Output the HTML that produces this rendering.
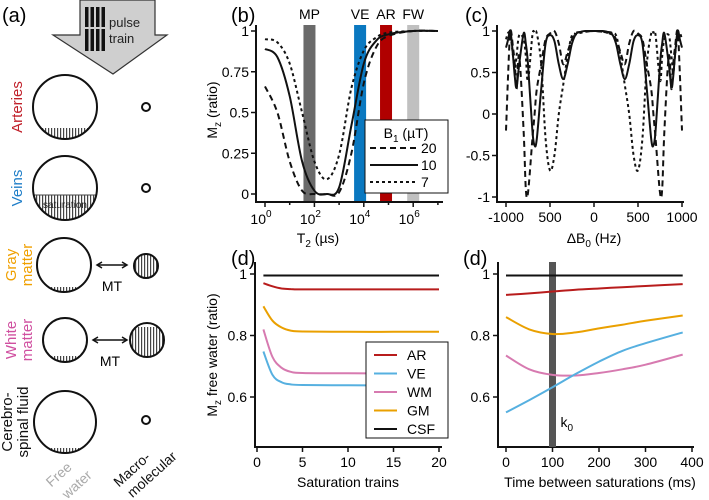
<!DOCTYPE html>
<html><head><meta charset="utf-8"><style>
body{margin:0;background:#fff}
svg{display:block;font-family:"Liberation Sans","DejaVu Sans",sans-serif}
</style></head><body>
<svg id="fig" width="709" height="500" viewBox="0 0 709 500">
<defs>
<pattern id="hatch" width="3" height="4" patternUnits="userSpaceOnUse"><rect width="3" height="4" fill="#fff"/><rect width="1.2" height="4" fill="#444"/></pattern>
<clipPath id="cA"><circle cx="65" cy="107" r="32"/></clipPath>
<clipPath id="cV"><circle cx="65" cy="188" r="32"/></clipPath>
<clipPath id="cG"><circle cx="64" cy="265" r="27"/></clipPath>
<clipPath id="cW"><circle cx="65" cy="340" r="22"/></clipPath>
<clipPath id="cC"><circle cx="65" cy="422" r="31"/></clipPath>
<clipPath id="cGm"><circle cx="146" cy="266" r="12"/></clipPath>
<clipPath id="cWm"><circle cx="147" cy="340" r="17"/></clipPath>
<clipPath id="clipB"><rect x="256" y="25" width="190" height="177"/></clipPath>
<clipPath id="clipC"><rect x="497" y="25" width="200" height="177"/></clipPath>
</defs>

<g>
<text x="2" y="22" font-size="20">(a)</text>
<polygon points="80,0 155,0 155,35 167,35 113,74 53,35 80,35" fill="#cfcfcf" stroke="#333" stroke-width="1.2"/>
<g fill="#111">
<rect x="85" y="7" width="3.5" height="44"/><rect x="90.5" y="7" width="3.5" height="44"/><rect x="96" y="7" width="3.5" height="44"/><rect x="101.5" y="7" width="3.5" height="44"/>
<rect x="84" y="27" width="22" height="2" fill="#cfcfcf"/>
</g>
<text x="109" y="27" font-size="13" fill="#222">pulse</text>
<text x="109" y="43" font-size="13" fill="#222">train</text>

<rect x="30" y="128" width="70" height="15" fill="url(#hatch)" clip-path="url(#cA)"/>
<circle cx="65" cy="107" r="32" fill="none" stroke="#111" stroke-width="2"/>
<circle cx="146" cy="107" r="4" fill="none" stroke="#111" stroke-width="2"/>

<rect x="30" y="195" width="70" height="30" fill="url(#hatch)" clip-path="url(#cV)"/>
<line x1="33" y1="195" x2="97" y2="195" stroke="#444" stroke-width="1"/>
<circle cx="65" cy="188" r="32" fill="none" stroke="#111" stroke-width="2"/>
<text x="65" y="208" font-size="10" text-anchor="middle" fill="#222">saturation</text>
<circle cx="146" cy="188" r="4" fill="none" stroke="#111" stroke-width="2"/>

<rect x="30" y="287" width="70" height="8" fill="url(#hatch)" clip-path="url(#cG)"/>
<circle cx="64" cy="265" r="27" fill="none" stroke="#111" stroke-width="2"/>
<rect x="130" y="252" width="32" height="30" fill="url(#hatch)" clip-path="url(#cGm)"/>
<circle cx="146" cy="266" r="12" fill="none" stroke="#111" stroke-width="2"/>
<g stroke="#111" stroke-width="1.5"><line x1="98" y1="265" x2="126" y2="265"/><polyline points="102,262 97,265 102,268" fill="none"/><polyline points="122,262 127,265 122,268" fill="none"/></g>
<text x="112" y="291" font-size="14" text-anchor="middle">MT</text>

<rect x="30" y="356" width="70" height="8" fill="url(#hatch)" clip-path="url(#cW)"/>
<circle cx="65" cy="340" r="22" fill="none" stroke="#111" stroke-width="2"/>
<rect x="126" y="327" width="40" height="35" fill="url(#hatch)" clip-path="url(#cWm)"/>
<circle cx="147" cy="340" r="17" fill="none" stroke="#111" stroke-width="2"/>
<g stroke="#111" stroke-width="1.5"><line x1="94" y1="340" x2="126" y2="340"/><polyline points="98,337 93,340 98,343" fill="none"/><polyline points="122,337 127,340 122,343" fill="none"/></g>
<text x="110" y="366" font-size="14" text-anchor="middle">MT</text>

<rect x="30" y="448" width="70" height="8" fill="url(#hatch)" clip-path="url(#cC)"/>
<circle cx="65" cy="422" r="31" fill="none" stroke="#111" stroke-width="2"/>
<circle cx="146" cy="420" r="4" fill="none" stroke="#111" stroke-width="2"/>

<g font-size="15" text-anchor="middle">
<text transform="translate(22,107) rotate(-90)" fill="#c0202a">Arteries</text>
<text transform="translate(22,188) rotate(-90)" fill="#1f7ec8">Veins</text>
<text transform="translate(16,265) rotate(-90)" fill="#f0a000">Gray</text>
<text transform="translate(32,265) rotate(-90)" fill="#f0a000">matter</text>
<text transform="translate(16,340) rotate(-90)" fill="#d050a0">White</text>
<text transform="translate(32,340) rotate(-90)" fill="#d050a0">matter</text>
<text transform="translate(12,422) rotate(-90)" fill="#111">Cerebro-</text>
<text transform="translate(28,422) rotate(-90)" fill="#111">spinal fluid</text>
<text transform="translate(62,478) rotate(-42)" fill="#aaa" font-size="14">Free</text>
<text transform="translate(80,488) rotate(-42)" fill="#aaa" font-size="14">water</text>
<text transform="translate(135,473) rotate(-42)" fill="#111" font-size="14">Macro-</text>
<text transform="translate(155,478) rotate(-42)" fill="#111" font-size="14">molecular</text>
</g>
</g>

<text x="231" y="22" font-size="20">(b)</text>
<text x="465" y="22" font-size="20">(c)</text>
<text x="231" y="265" font-size="20">(d)</text>
<text x="463" y="265" font-size="20">(d)</text>

<g id="gB"></g>
<g id="gC"></g>
<g id="gD1"></g>
<g id="gD2"></g>
</svg>
<script>
// ---------- Panel b data ----------
const bLogT2 = [0, 0.5, 1, 1.5, 2, 2.5, 3, 3.5, 4, 4.5, 5, 6, 7];
const bB1_20 = [0.66, 0.5, 0.2, 0.02, 0.0, 0.0, 0.01, 0.25, 0.68, 0.9, 0.97, 1.0, 1.0];
const bB1_10 = [0.89, 0.84, 0.6, 0.2, 0.02, 0.0, 0.04, 0.42, 0.8, 0.94, 0.98, 1.0, 1.0];
const bB1_7 = [0.95, 0.93, 0.8, 0.5, 0.2, 0.09, 0.24, 0.65, 0.88, 0.96, 0.99, 1.0, 1.0];
const bBandNames = ["MP", "VE", "AR", "FW"];
const bBandLog = [1.8, 3.85, 4.9, 6.0];
const bBandColors = ["#6a6a6a", "#0a78c0", "#b00000", "#c0c0c0"];
const bYTicks = [0, 0.25, 0.5, 0.75, 1];
const bYLabels = ["0", "0.25", "0.5", "0.75", "1"];
const bXTicks = [0, 2, 4, 6];
const bLegend = ["20", "10", "7"];

// ---------- Panel c data (positive half, mirrored) ----------
const cHz = [0,100,150,200,250,300,350,400,450,500,550,600,650,675,700,750,775,800,850,880,900,920,950,975,1000];
const cSolid = [1,1,0.99,0.97,0.85,0.6,0.42,0.6,0.88,0.95,0.85,0.3,-0.3,-0.38,-0.2,0.6,0.85,0.97,0.6,0.32,0.45,0.7,1,0.9,0.8];
const cDashed = [1,0.99,0.98,0.98,0.9,0.75,0.6,0.85,1,0.97,0.9,0.6,0.3,0,-0.3,-0.95,-0.9,-0.2,0.7,0.3,0.6,0.8,1,0.5,-0.2];
const cDotted = [1,0.99,0.98,0.96,0.95,0.7,0.35,0,-0.5,-0.68,-0.3,0.6,0.97,0.98,0.95,0.4,0.7,0.9,0.95,0.7,0.5,0.7,0.95,0.98,0.9];
const cYTicks = [-1, -0.5, 0, 0.5, 1];
const cYLabels = ["-1", "-0.5", "0", "0.5", "1"];
const cXTicks = [-1000, -500, 0, 500, 1000];
const cXLabels = ["-1000", "500", "0", "500", "1000"];

// ---------- Panel d data ----------
const dTrains = [0.7, 1.7, 2.7, 3.7, 5, 10, 15, 20];
const dTrainAR = [0.97, 0.96, 0.953, 0.951, 0.95, 0.95, 0.95, 0.95];
const dTrainVE = [0.748, 0.672, 0.648, 0.641, 0.639, 0.638, 0.638, 0.638];
const dTrainWM = [0.82, 0.73, 0.695, 0.682, 0.678, 0.677, 0.677, 0.677];
const dTrainGM = [0.895, 0.848, 0.826, 0.816, 0.813, 0.812, 0.812, 0.812];
const dTrainCSF = [0.995, 0.995, 0.995, 0.995, 0.995, 0.995, 0.995, 0.995];
const dTime = [0, 50, 100, 150, 200, 250, 300, 380];
const dTimeAR = [0.932, 0.937, 0.943, 0.949, 0.953, 0.957, 0.961, 0.967];
const dTimeVE = [0.55, 0.59, 0.632, 0.675, 0.715, 0.75, 0.775, 0.81];
const dTimeWM = [0.735, 0.69, 0.672, 0.67, 0.678, 0.69, 0.705, 0.738];
const dTimeGM = [0.86, 0.82, 0.805, 0.81, 0.823, 0.835, 0.848, 0.865];
const dTimeCSF = [0.995, 0.995, 0.995, 0.995, 0.995, 0.995, 0.995, 0.995];
const dK0 = 100;
const dYTicks = [0.6, 0.8, 1];
const dYLabels = ["0.6", "0.8", "1"];
const dTrainTicks = [0, 5, 10, 15, 20];
const dTimeTicks = [0, 100, 200, 300, 400];
const dLegendNames = ["AR", "VE", "WM", "GM", "CSF"];

const NS = "http://www.w3.org/2000/svg";
function mk(tag, attrs, parent, text) {
  const e = document.createElementNS(NS, tag);
  for (const k in attrs) e.setAttribute(k, attrs[k]);
  if (text !== undefined) e.textContent = text;
  parent.appendChild(e);
  return e;
}
function pathD(xs, ys, fx, fy) {
  const P = xs.map((x, i) => [fx(x), fy(ys[i])]);
  let d = "M" + P[0][0].toFixed(1) + "," + P[0][1].toFixed(1);
  for (let i = 0; i < P.length - 1; i++) {
    const p0 = P[i - 1] || P[i], p1 = P[i], p2 = P[i + 1], p3 = P[i + 2] || P[i + 1];
    const c1 = [p1[0] + (p2[0] - p0[0]) / 6, p1[1] + (p2[1] - p0[1]) / 6];
    const c2 = [p2[0] - (p3[0] - p1[0]) / 6, p2[1] - (p3[1] - p1[1]) / 6];
    d += " C" + c1[0].toFixed(1) + "," + c1[1].toFixed(1) + " " + c2[0].toFixed(1) + "," + c2[1].toFixed(1) + " " + p2[0].toFixed(1) + "," + p2[1].toFixed(1);
  }
  return d;
}
const COL = {AR: "#b81c1c", VE: "#56b0e0", WM: "#d77ab0", GM: "#eaa000", CSF: "#111"};

// ===== Panel b =====
(function () {
  const g = document.getElementById("gB");
  const fx = v => 265 + 24.7 * v;
  const fy = v => 194 - 163 * v;
  bBandLog.forEach((v, i) => {
    const r = mk("rect", {x: fx(v) - 6, y: 25, width: 12, height: 177, fill: bBandColors[i]}, g);
    
    
    const t = mk("text", {x: fx(v), y: 19, "font-size": 14, "text-anchor": "middle"}, g, bBandNames[i]);
    
    
  });
  const ax = mk("path", {d: "M256,25 L256,202 L443,202", fill: "none", stroke: "#111", "stroke-width": 2}, g);
  
  
  bYTicks.forEach((v, i) => {
    mk("line", {x1: 251, x2: 256, y1: fy(v), y2: fy(v), stroke: "#111", "stroke-width": 1.5}, g);
    const t = mk("text", {x: 249, y: fy(v) + 5, "font-size": 14, "text-anchor": "end"}, g, bYLabels[i]);
    
    
  });
  for (let d = 0; d <= 7; d++) mk("line", {x1: fx(d), x2: fx(d), y1: 202, y2: d % 2 ? 205 : 207, stroke: "#111", "stroke-width": 1.5}, g);
  bXTicks.forEach(v => {
    const t = mk("text", {x: fx(v) - 4, y: 224, "font-size": 14, "text-anchor": "middle"}, g);
    
    
    t.textContent = "10";
    mk("tspan", {dy: -7, "font-size": 10}, t, String(v));
  });
  const xt = mk("text", {x: 318, y: 243, "font-size": 14, "text-anchor": "middle"}, g);
  
  
  xt.textContent = "T";
  mk("tspan", {dy: 4, "font-size": 10}, xt, "2");
  mk("tspan", {dy: -4}, xt, " (µs)");
  const yt = mk("text", {transform: "translate(217,110) rotate(-90)", "font-size": 14, "text-anchor": "middle"}, g);
  
  
  yt.textContent = "M";
  mk("tspan", {dy: 4, "font-size": 10}, yt, "z");
  mk("tspan", {dy: -4}, yt, " (ratio)");
  const styles = ["6,4", "none", "3,3"];
  const series = [bB1_20, bB1_10, bB1_7];
  series.forEach((s, i) => {
    const p = mk("path", {d: pathD(bLogT2, s, fx, fy), fill: "none", stroke: "#111", "stroke-width": 2, "stroke-dasharray": styles[i], "clip-path": "url(#clipB)"}, g);
    
    
  });
  const lg = mk("g", {}, g);
  
  
  mk("rect", {x: 365, y: 120, width: 83, height: 73, fill: "#fff", stroke: "#111", "stroke-width": 1}, lg);
  const lt = mk("text", {x: 406, y: 138, "font-size": 14, "text-anchor": "middle"}, lg);
  lt.textContent = "B";
  mk("tspan", {dy: 4, "font-size": 10}, lt, "1");
  mk("tspan", {dy: -4}, lt, " (µT)");
  bLegend.forEach((n, i) => {
    const y = 153 + i * 17;
    mk("line", {x1: 370, x2: 418, y1: y - 5, y2: y - 5, stroke: "#111", "stroke-width": 2, "stroke-dasharray": styles[i]}, lg);
    const t = mk("text", {x: 421, y: y, "font-size": 14}, lg, n);
    
    
  });
})();

// ===== Panel c =====
(function () {
  const g = document.getElementById("gC");
  const fx = v => 594 + 0.088 * v;
  const fy = v => 114 - 83 * v;
  const ax = mk("path", {d: "M497,25 L497,202 L684,202", fill: "none", stroke: "#111", "stroke-width": 2}, g);
  
  
  cYTicks.forEach((v, i) => {
    mk("line", {x1: 492, x2: 497, y1: fy(v), y2: fy(v), stroke: "#111", "stroke-width": 1.5}, g);
    const t = mk("text", {x: 490, y: fy(v) + 5, "font-size": 14, "text-anchor": "end"}, g, cYLabels[i]);
    
    
  });
  cXTicks.forEach((v, i) => {
    mk("line", {x1: fx(v), x2: fx(v), y1: 202, y2: 207, stroke: "#111", "stroke-width": 1.5}, g);
    const t = mk("text", {x: fx(v), y: 222, "font-size": 14, "text-anchor": "middle"}, g, cXLabels[i]);
    
    
  });
  const xt = mk("text", {x: 594, y: 243, "font-size": 14, "text-anchor": "middle"}, g);
  
  
  xt.textContent = "ΔB";
  mk("tspan", {dy: 4, "font-size": 10}, xt, "0");
  mk("tspan", {dy: -4}, xt, " (Hz)");
  const full = arr => arr.slice(1).reverse().concat(arr);
  const xs = cHz.slice(1).map(v => -v).reverse().concat(cHz);
  [[cDashed, "6,4", "dashed"], [cDotted, "3,3", "dotted"], [cSolid, "none", "solid"]].forEach(([s, da, nm]) => {
    const p = mk("path", {d: pathD(xs, full(s), fx, fy), fill: "none", stroke: "#111", "stroke-width": 2, "stroke-dasharray": da, "clip-path": "url(#clipC)"}, g);
    
    
  });
})();

// ===== Panel d =====
function dAxes(g, x0, xEnd, fx, ticks, title, titleX, prefix) {
  const fy = v => 274 + 307.5 * (1 - v);
  const ax = mk("path", {d: `M${x0},262 L${x0},447 L${xEnd},447`, fill: "none", stroke: "#111", "stroke-width": 2}, g);
  
  
  dYTicks.forEach((v, i) => {
    mk("line", {x1: x0 - 5, x2: x0, y1: fy(v), y2: fy(v), stroke: "#111", "stroke-width": 1.5}, g);
    const t = mk("text", {x: x0 - 8, y: fy(v) + 5, "font-size": 14, "text-anchor": "end"}, g, dYLabels[i]);
    
    
  });
  ticks.forEach(v => {
    mk("line", {x1: fx(v), x2: fx(v), y1: 447, y2: 452, stroke: "#111", "stroke-width": 1.5}, g);
    const t = mk("text", {x: fx(v), y: 467, "font-size": 14, "text-anchor": "middle"}, g, String(v));
    
    
  });
  const xt = mk("text", {x: titleX, y: 487, "font-size": 14, "text-anchor": "middle"}, g, title);
  
  
  return fy;
}
(function () {
  const g = document.getElementById("gD1");
  const fx = v => 257 + 9.1 * v;
  const fy = dAxes(g, 255, 442, fx, dTrainTicks, "Saturation trains", 348, "d-left");
  const yt = mk("text", {transform: "translate(217,355) rotate(-90)", "font-size": 14, "text-anchor": "middle"}, g);
  
  
  yt.textContent = "M";
  mk("tspan", {dy: 4, "font-size": 10}, yt, "z");
  mk("tspan", {dy: -4}, yt, " free water (ratio)");
  const ser = {AR: dTrainAR, VE: dTrainVE, WM: dTrainWM, GM: dTrainGM, CSF: dTrainCSF};
  for (const k in ser) {
    const p = mk("path", {d: pathD(dTrains, ser[k], fx, fy), fill: "none", stroke: COL[k], "stroke-width": 2}, g);
    
    
  }
  const lg = mk("g", {}, g);
  
  
  mk("rect", {x: 366, y: 342, width: 82, height: 96, fill: "#fff", stroke: "#111", "stroke-width": 1}, lg);
  dLegendNames.forEach((n, i) => {
    const y = 355 + i * 18.5;
    mk("line", {x1: 374, x2: 397, y1: y, y2: y, stroke: COL[n], "stroke-width": 2}, lg);
    const t = mk("text", {x: 407, y: y + 5, "font-size": 14}, lg, n);
    
    
  });
})();
(function () {
  const g = document.getElementById("gD2");
  const fx = v => 506 + 0.465 * v;
  const fy = dAxes(g, 498, 694, fx, dTimeTicks, "Time between saturations (ms)", 600, "d-right");
  const b = mk("rect", {x: fx(dK0) - 3.5, y: 262, width: 7, height: 185, fill: "#555"}, g);
  
  
  const kt = mk("text", {x: fx(dK0) + 8, y: 427, "font-size": 14}, g);
  
  
  kt.textContent = "k";
  mk("tspan", {dy: 4, "font-size": 10}, kt, "0");
  const ser = {AR: dTimeAR, GM: dTimeGM, WM: dTimeWM, VE: dTimeVE, CSF: dTimeCSF};
  for (const k in ser) {
    const p = mk("path", {d: pathD(dTime, ser[k], fx, fy), fill: "none", stroke: COL[k], "stroke-width": 2}, g);
    
    
  }
})();
</script>
</body></html>
